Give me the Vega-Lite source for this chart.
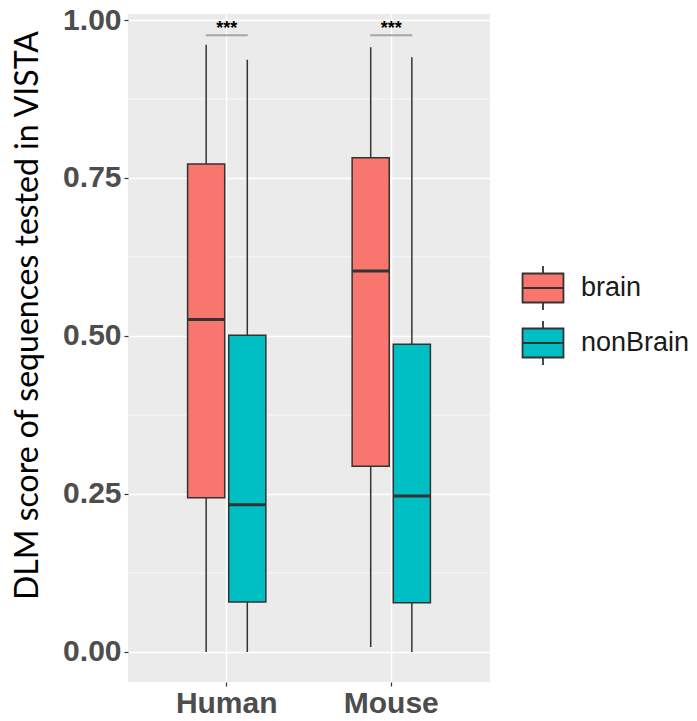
{
  "$schema": "https://vega.github.io/schema/vega-lite/v6.json",
  "width": 362,
  "height": 668,
  "autosize": {"type": "none"},
  "padding": {"left": 128, "top": 14, "right": 207, "bottom": 39},
  "background": "white",
  "config": {
    "view": {"fill": "#EBEBEB", "stroke": null},
    "axis": {
      "domain": false,
      "grid": true,
      "gridColor": "white",
      "gridWidth": 1.4,
      "tickColor": "#333333",
      "tickSize": 4,
      "tickWidth": 1.2,
      "labelFont": "Liberation Sans",
      "labelFontWeight": "bold",
      "labelColor": "#4D4D4D"
    },
    "axisX": {"labelFontSize": 30, "labelAngle": 0, "labelPadding": 2, "title": null},
    "axisY": {
      "labelFontSize": 30,
      "labelPadding": 3,
      "titleFont": "Lato",
      "titleFontSize": 32,
      "titleFontWeight": "normal",
      "titleColor": "black",
      "titleY": 301,
      "titleX": -91,
      "titleBaseline": "alphabetic"
    }
  },
  "datasets": {
    "boxes": [
      {"group": "Human", "tissue": "brain", "lower": 0.0, "q1": 0.244, "median": 0.526, "q3": 0.772, "upper": 0.961},
      {"group": "Human", "tissue": "nonBrain", "lower": 0.0, "q1": 0.079, "median": 0.233, "q3": 0.501, "upper": 0.937},
      {"group": "Mouse", "tissue": "brain", "lower": 0.008, "q1": 0.294, "median": 0.603, "q3": 0.782, "upper": 0.957},
      {"group": "Mouse", "tissue": "nonBrain", "lower": 0.0, "q1": 0.078, "median": 0.247, "q3": 0.487, "upper": 0.941}
    ],
    "minor": [{"v": 0.125}, {"v": 0.375}, {"v": 0.625}, {"v": 0.875}],
    "sig": [
      {"group": "Human", "bar": 0.976, "star": 0.986, "label": "***"},
      {"group": "Mouse", "bar": 0.976, "star": 0.986, "label": "***"}
    ]
  },
  "layer": [
    {
      "data": {"name": "minor"},
      "mark": {"type": "rule", "color": "white", "strokeWidth": 0.7},
      "encoding": {
        "y": {
          "field": "v", "type": "quantitative",
          "scale": {"domain": [-0.0475, 1.0095], "nice": false, "zero": false},
          "axis": {"values": [0, 0.25, 0.5, 0.75, 1], "format": ".2f"},
          "title": "DLM score of sequences tested in VISTA"
        }
      }
    },
    {
      "data": {"name": "boxes"},
      "mark": {"type": "rule", "color": "#333333", "strokeWidth": 1.5},
      "encoding": {
        "x": {"field": "group", "type": "nominal", "scale": {"paddingInner": 0.5, "paddingOuter": 0.35}, "title": null},
        "xOffset": {"field": "tissue", "type": "nominal", "scale": {"paddingInner": 0.0976, "paddingOuter": 0.0488}},
        "y": {"field": "lower", "type": "quantitative", "title": "DLM score of sequences tested in VISTA"},
        "y2": {"field": "upper"}
      }
    },
    {
      "data": {"name": "boxes"},
      "mark": {"type": "bar", "stroke": "#333333", "strokeWidth": 1.5, "opacity": 1},
      "encoding": {
        "x": {"field": "group", "type": "nominal", "title": null},
        "xOffset": {"field": "tissue", "type": "nominal"},
        "y": {"field": "q1", "type": "quantitative", "title": "DLM score of sequences tested in VISTA"},
        "y2": {"field": "q3"},
        "color": {
          "field": "tissue",
          "type": "nominal",
          "scale": {"domain": ["brain", "nonBrain"], "range": ["#F8766D", "#00BFC4"]},
          "legend": {
            "title": null,
            "orient": "none",
            "legendX": 392,
            "legendY": 251,
            "padding": 0,
            "symbolType": "M-0.93,-0.66H0.93V0.66H-0.93Z M-0.93,0H0.93 M0,-0.66V-1 M0,0.66V1",
            "symbolSize": 1936,
            "symbolStrokeColor": "#333333",
            "symbolStrokeWidth": 1.8,
            "symbolOpacity": 1,
            "labelFont": "Liberation Sans",
            "labelFontSize": 27,
            "labelColor": "#1a1a1a",
            "labelOffset": 15,
            "rowPadding": 3
          }
        }
      }
    },
    {
      "data": {"name": "boxes"},
      "mark": {"type": "tick", "color": "#333333", "thickness": 3, "size": 37, "orient": "horizontal", "opacity": 1},
      "encoding": {
        "x": {"field": "group", "type": "nominal", "title": null},
        "xOffset": {"field": "tissue", "type": "nominal"},
        "y": {"field": "median", "type": "quantitative", "title": "DLM score of sequences tested in VISTA"}
      }
    },
    {
      "data": {"name": "sig"},
      "mark": {"type": "tick", "color": "#A6A6A6", "thickness": 2, "size": 42, "orient": "horizontal", "opacity": 1},
      "encoding": {
        "x": {"field": "group", "type": "nominal", "title": null},
        "y": {"field": "bar", "type": "quantitative", "title": "DLM score of sequences tested in VISTA"}
      }
    },
    {
      "data": {"name": "sig"},
      "mark": {"type": "text", "font": "Liberation Sans", "fontWeight": "bold", "fontSize": 18, "color": "black", "baseline": "middle"},
      "encoding": {
        "x": {"field": "group", "type": "nominal", "title": null},
        "y": {"field": "star", "type": "quantitative", "title": "DLM score of sequences tested in VISTA"},
        "text": {"field": "label"}
      }
    }
  ]
}
